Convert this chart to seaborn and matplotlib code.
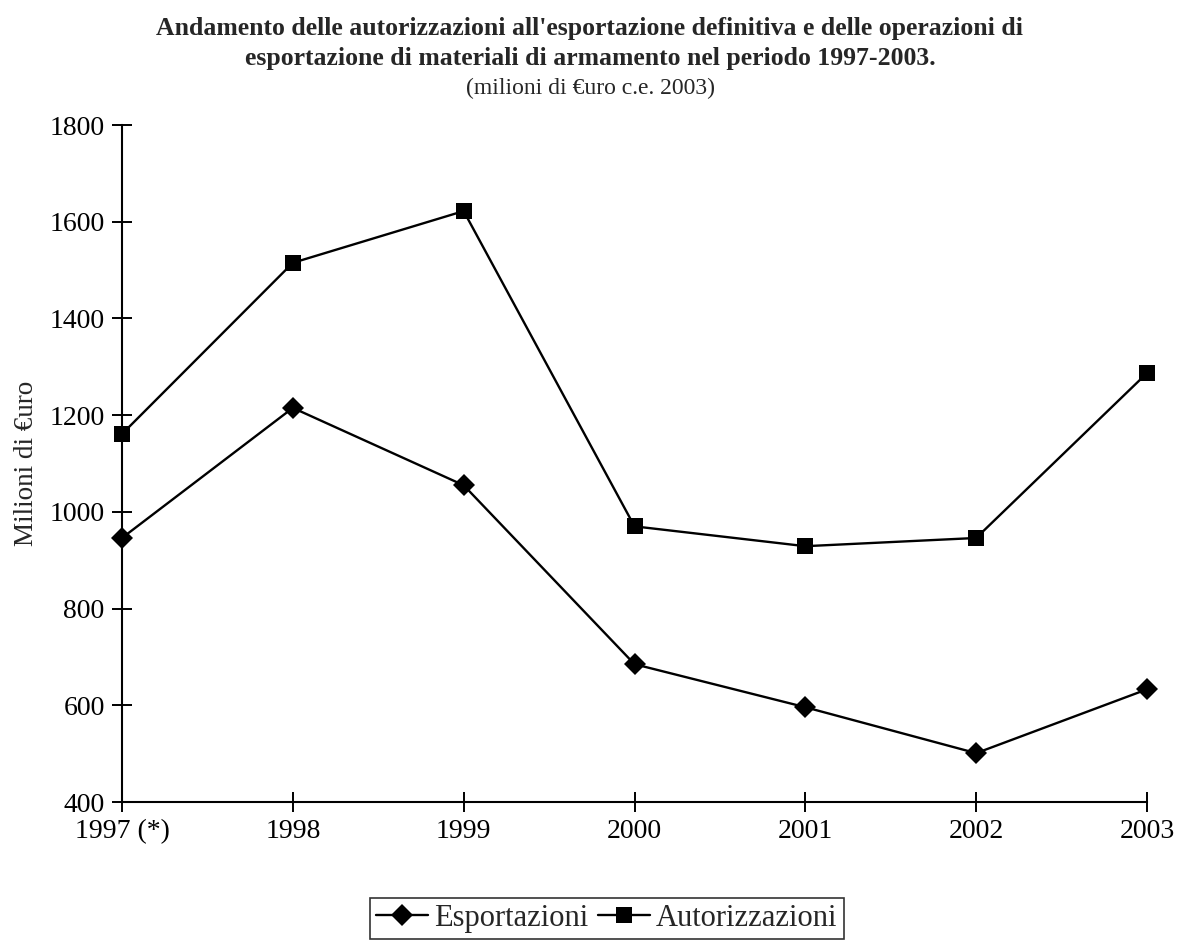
import matplotlib
matplotlib.use('Agg')
import matplotlib.pyplot as plt
import seaborn as sns
import pandas as pd

# Data (milioni di euro)
anni = ['1997 (*)', '1998', '1999', '2000', '2001', '2002', '2003']
esportazioni = [946, 1215, 1055, 685, 596, 501, 633]
autorizzazioni = [1161, 1515, 1622, 970, 929, 946, 1287]
y_ticks = [400, 600, 800, 1000, 1200, 1400, 1600, 1800]

df = pd.DataFrame({'Anno': anni, 'Esportazioni': esportazioni, 'Autorizzazioni': autorizzazioni})

sns.set_style('ticks')
plt.rcParams['font.family'] = ['Liberation Serif', 'DejaVu Serif']

fig = plt.figure(figsize=(11.8, 9.46), dpi=100)
ax = fig.add_axes([122 / 1180, 1 - 802 / 946, (1147 - 122) / 1180, (802 - 125) / 946])

sns.lineplot(data=df, x='Anno', y='Esportazioni', ax=ax, color='black', lw=1.7,
             marker='D', markersize=11, markeredgewidth=0, label='Esportazioni', sort=False)
sns.lineplot(data=df, x='Anno', y='Autorizzazioni', ax=ax, color='black', lw=1.7,
             marker='s', markersize=12, markeredgewidth=0, label='Autorizzazioni', sort=False)
for line in ax.lines:
    line.set_clip_on(False)

ax.set_xlim(0, len(anni) - 1)
ax.set_ylim(400, 1800)
ax.set_yticks(y_ticks)
ax.set_xlabel('')
ax.set_ylabel('Milioni di €uro', fontsize=19.5)
ax.yaxis.set_label_coords(-0.081, 0.5)
ax.tick_params(axis='both', direction='inout', length=15, width=1.4, labelsize=20, pad=5, colors='black')
sns.despine(ax=ax)
for sp in ['left', 'bottom']:
    ax.spines[sp].set_linewidth(1.5)
    ax.spines[sp].set_color('black')

# Titles
fig.text(0.5, 1 - 29 / 946, "Andamento delle autorizzazioni all'esportazione definitiva e delle operazioni di",
         ha='center', va='center', fontsize=18.5, fontweight='bold')
fig.text(0.5, 1 - 59 / 946, "esportazione di materiali di armamento nel periodo 1997-2003.",
         ha='center', va='center', fontsize=18.5, fontweight='bold')
fig.text(0.5, 1 - 88 / 946, "(milioni di €uro c.e. 2003)", ha='center', va='center', fontsize=17)

# Legend below the axes
ax.legend_.remove()
h, l = ax.get_legend_handles_labels()
leg = fig.legend(h, l, loc='upper center', bbox_to_anchor=(607 / 1180, 1 - 898 / 946), ncol=2,
                 fontsize=22, frameon=True, fancybox=False, shadow=False, edgecolor='black',
                 handlelength=1.7, handletextpad=0.2, columnspacing=0.3, borderpad=0.2,
                 borderaxespad=0)
leg.get_frame().set_linewidth(1.2)

fig.savefig('out.png', dpi=100, facecolor='white')
